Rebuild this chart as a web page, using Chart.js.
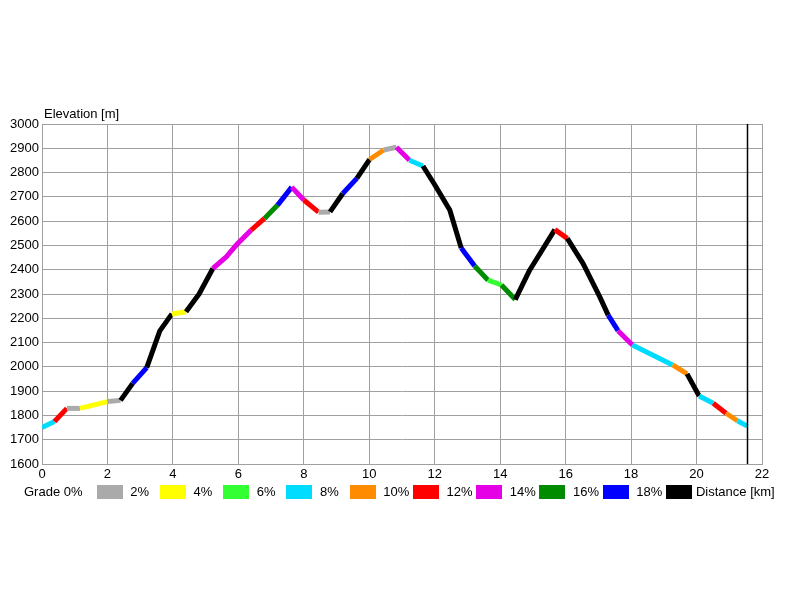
<!DOCTYPE html>
<html>
<head>
<meta charset="utf-8">
<script src="https://cdn.jsdelivr.net/npm/chart.js@4.4.1/dist/chart.umd.min.js"></script>
<style>
  html, body { margin: 0; padding: 0; background: #ffffff; }
  #wrap { width: 800px; height: 600px; position: relative; }
</style>
</head>
<body>
<div id="wrap"><canvas id="c" width="800" height="600"></canvas></div>
<script>
// ---- data ----
const distKm = [0, 0.38, 0.76, 1.16, 2.0, 2.4, 2.77, 3.2, 3.6, 3.97, 4.4, 4.8, 5.22, 5.63, 5.98, 6.39, 6.8, 7.2, 7.63, 8.0,
                8.45, 8.8, 9.19, 9.62, 10.01, 10.44, 10.83, 11.23, 11.64, 12.0, 12.46, 12.81, 13.22, 13.63, 14.04, 14.46, 14.9, 15.67, 16.05, 16.53,
                17.04, 17.3, 17.6, 18.04, 19.27, 19.71, 20.08, 20.51, 20.9, 21.25, 21.55];
const elevM  = [1750, 1775, 1829, 1829, 1857, 1862, 1932, 1997, 2148, 2218, 2227, 2300, 2405, 2453, 2508, 2563, 2611, 2666, 2740, 2687,
                2637, 2638, 2714, 2776, 2854, 2893, 2904, 2851, 2827, 2750, 2646, 2489, 2415, 2357, 2337, 2277, 2398, 2565, 2529, 2426,
                2289, 2213, 2149, 2090, 2008, 1971, 1880, 1850, 1809, 1778, 1756];
// grade class of each segment (index into gradeColors), segment i joins point i and i+1
const gradeClass = [3, 5, 0, 1, 0, 9, 8, 9, 9, 1, 9, 9, 6, 6, 6, 5, 7, 8, 6, 5,
                    0, 9, 8, 9, 4, 0, 6, 3, 9, 9, 9, 8, 7, 2, 7, 9, 9, 5, 9, 9,
                    9, 8, 6, 3, 4, 9, 3, 5, 4, 3];
const gradeLabels = ['0%', '2%', '4%', '6%', '8%', '10%', '12%', '14%', '16%', '18%'];
const gradeColors = ['#aaaaaa', '#ffff00', '#33ff33', '#00dcff', '#ff8c00', '#ff0000', '#e600e6', '#008c00', '#0000ff', '#000000'];
const yTickMin = 1600, yTickMax = 3000, yTickStep = 100;
const xTickMin = 0, xTickMax = 22, xTickStep = 2;
const yTitle = 'Elevation [m]';
const xTitle = 'Distance [km]';
const legendTitle = 'Grade';

const FONT = '"Liberation Sans", Arial, sans-serif';
const GRID = '#a0a0a0';

const points = distKm.map((d, i) => ({ x: d, y: elevM[i] }));

const decorPlugin = {
  id: 'decor',
  afterDraw(chart) {
    const ctx = chart.ctx;
    const area = chart.chartArea;
    const xs = chart.scales.x;
    ctx.save();
    // end-of-track vertical line
    const xe = Math.round(xs.getPixelForValue(distKm[distKm.length - 1])) + 0.5;
    ctx.strokeStyle = '#000000';
    ctx.lineWidth = 1.5;
    ctx.beginPath();
    ctx.moveTo(xe, area.top);
    ctx.lineTo(xe, area.bottom);
    ctx.stroke();
    // axis title
    ctx.fillStyle = '#000000';
    ctx.font = '13px ' + FONT;
    ctx.textBaseline = 'middle';
    ctx.textAlign = 'left';
    ctx.fillText(yTitle, 44, 114);
    // legend
    const ly = 492;
    ctx.fillText(legendTitle + ' ' + gradeLabels[0], 24, ly);
    const step = 63.25;
    for (let i = 0; i < gradeColors.length; i++) {
      const bx = 96.7 + i * step;
      ctx.fillStyle = gradeColors[i];
      ctx.fillRect(Math.round(bx), 485, 26, 14);
      ctx.fillStyle = '#000000';
      const label = (i + 1 < gradeLabels.length) ? gradeLabels[i + 1] : xTitle;
      ctx.fillText(label, bx + (i + 1 < gradeLabels.length ? 33.5 : 30), ly);
    }
    ctx.restore();
  }
};

new Chart(document.getElementById('c'), {
  type: 'line',
  data: {
    datasets: [{
      data: points,
      borderWidth: 5,
      borderColor: '#000000',
      pointRadius: 0,
      tension: 0,
      borderJoinStyle: 'round',
      segment: {
        borderColor: (c) => gradeColors[gradeClass[c.p0DataIndex]]
      }
    }]
  },
  options: {
    responsive: false,
    animation: false,
    events: [],
    layout: { padding: { top: 124, left: 0, right: 38, bottom: 0 } },
    plugins: { legend: { display: false }, tooltip: { enabled: false } },
    scales: {
      x: {
        type: 'linear',
        min: xTickMin, max: xTickMax,
        ticks: { stepSize: xTickStep, color: '#000000', font: { family: FONT, size: 13 }, padding: 3, maxRotation: 0,
                 callback: (v) => String(v) },
        grid: { color: GRID, lineWidth: 1, drawTicks: false },
        border: { color: GRID, width: 1 },
        afterFit: (s) => { s.height = 136; }
      },
      y: {
        type: 'linear',
        min: yTickMin, max: yTickMax,
        ticks: { stepSize: yTickStep, color: '#000000', font: { family: FONT, size: 13 }, padding: 3,
                 callback: (v) => String(v) },
        grid: { color: GRID, lineWidth: 1, drawTicks: false },
        border: { color: GRID, width: 1 },
        afterFit: (s) => { s.width = 42; }
      }
    }
  },
  plugins: [decorPlugin]
});
</script>
</body>
</html>
